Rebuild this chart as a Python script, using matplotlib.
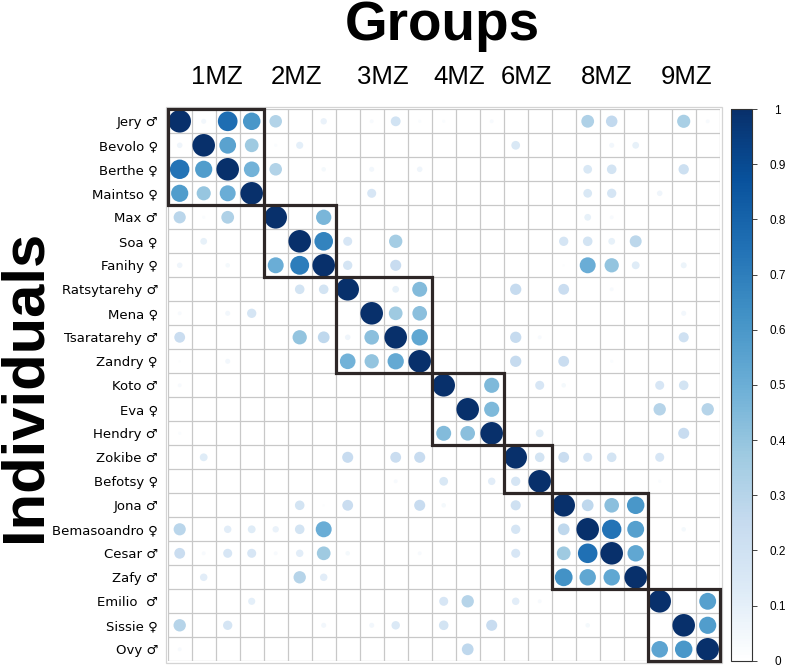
import numpy as np
import matplotlib
matplotlib.use("Agg")
import matplotlib.pyplot as plt
from matplotlib.patches import Circle, Rectangle
from matplotlib.colors import LinearSegmentedColormap, Normalize
from matplotlib.cm import ScalarMappable

individuals = ["Jery ♂", "Bevolo ♀", "Berthe ♀", "Maintso ♀", "Max ♂", "Soa ♀",
               "Fanihy ♀", "Ratsytarehy ♂", "Mena ♀", "Tsaratarehy ♂", "Zandry ♀",
               "Koto ♂", "Eva ♀", "Hendry ♂", "Zokibe ♂", "Befotsy ♀", "Jona ♂",
               "Bemasoandro ♀", "Cesar ♂", "Zafy ♂", "Emilio  ♂", "Sissie ♀", "Ovy ♂"]

group_labels = ["1MZ", "2MZ", "3MZ", "4MZ", "6MZ", "8MZ", "9MZ"]
group_sizes = [4, 3, 4, 3, 2, 4, 3]
group_label_offsets = [0.04, -0.12, -0.05, -0.36, -0.04, 0.29, 0.1]

N = len(individuals)

def row(entries):
    r = [0.0] * N
    for k, v in entries.items():
        r[k] = v
    return r

affinity = [
    row({0: 1, 1: .05, 2: .76, 3: .60, 4: .31, 6: .08, 8: .03, 9: .19, 10: .02, 11: .02, 13: .03, 17: .32, 18: .26, 21: .34, 22: .03}),  # Jery
    row({0: .06, 1: 1, 2: .55, 3: .37, 4: .02, 5: .10, 14: .15, 18: .05, 19: .09}),  # Bevolo
    row({0: .74, 1: .58, 2: 1, 3: .48, 4: .31, 6: .04, 8: .05, 10: .06, 17: .15, 18: .18, 21: .21}),  # Berthe
    row({0: .58, 1: .39, 2: .50, 3: 1, 8: .16, 17: .15, 18: .17, 20: .06}),  # Maintso
    row({0: .29, 1: .02, 2: .32, 4: 1, 6: .46, 17: .09, 18: .03}),  # Max
    row({1: .09, 5: 1, 6: .68, 7: .16, 9: .35, 16: .17, 17: .18, 18: .09, 19: .28}),  # Soa
    row({0: .06, 2: .04, 4: .50, 5: .70, 6: 1, 7: .17, 9: .24, 16: .01, 17: .50, 18: .40, 19: .12, 21: .07}),  # Fanihy
    row({5: .18, 6: .18, 7: 1, 9: .09, 10: .44, 14: .25, 16: .23, 18: .03}),  # Ratsytarehy
    row({0: .03, 2: .05, 3: .17, 8: 1, 9: .37, 10: .42, 21: .05}),  # Mena
    row({0: .23, 5: .40, 6: .27, 7: .06, 8: .42, 9: 1, 10: .53, 14: .25, 15: .03, 21: .20}),  # Tsaratarehy
    row({0: .01, 2: .05, 7: .48, 8: .40, 9: .52, 10: 1, 14: .25, 16: .23, 18: .02}),  # Zandry
    row({0: .03, 11: 1, 13: .45, 15: .16, 16: .04, 20: .16, 21: .18}),  # Koto
    row({12: 1, 13: .45, 20: .30, 22: .30}),  # Eva
    row({0: .02, 11: .44, 12: .42, 13: 1, 15: .12, 21: .24}),  # Hendry
    row({1: .12, 7: .24, 9: .23, 10: .24, 14: 1, 15: .18, 16: .23, 17: .16, 18: .18, 20: .16}),  # Zokibe
    row({9: .03, 11: .15, 13: .11, 14: .17, 15: 1, 20: .02}),  # Befotsy
    row({5: .18, 6: .01, 7: .23, 10: .24, 11: .04, 14: .20, 16: 1, 17: .27, 18: .42, 19: .60}),  # Jona
    row({0: .29, 2: .11, 3: .12, 4: .08, 5: .18, 6: .50, 14: .17, 16: .27, 17: 1, 18: .74, 19: .56, 21: .04}),  # Bemasoandro
    row({0: .23, 1: .03, 2: .16, 3: .16, 4: .03, 5: .11, 6: .37, 7: .04, 10: .03, 14: .16, 16: .37, 17: .75, 18: 1, 19: .53}),  # Cesar
    row({1: .11, 5: .30, 6: .11, 16: .62, 17: .53, 18: .53, 19: 1}),  # Zafy
    row({3: .10, 11: .16, 12: .30, 14: .11, 15: .03, 20: 1, 22: .56}),  # Emilio
    row({0: .30, 2: .17, 6: .05, 8: .05, 9: .14, 11: .18, 13: .24, 17: .04, 21: 1, 22: .58}),  # Sissie
    row({0: .03, 12: .27, 20: .54, 21: .60, 22: 1}),  # Ovy
]
M = np.array(affinity)

cmap = LinearSegmentedColormap.from_list(
    "blues", ["#FFFFFF", "#DEEBF7", "#C6DBEF", "#9ECAE1", "#6BAED6",
              "#4292C6", "#2171B5", "#08519C", "#08306B"], N=200)
norm = Normalize(0, 1)

fig = plt.figure(figsize=(7.87, 6.68), dpi=100)
ax = fig.add_axes([167.7 / 787, 6.7 / 668, 552 / 787, 552 / 668])
ax.set_xlim(-0.5, N - 0.5)
ax.set_ylim(N - 0.5, -0.5)
ax.set_aspect("equal")

gridc = "#c8c8c8"
for k in range(N + 1):
    ax.axhline(k - 0.5, color=gridc, lw=0.9, zorder=1)
    ax.axvline(k - 0.5, color=gridc, lw=0.9, zorder=1)
for s in ax.spines.values():
    s.set_visible(False)
d = 0.09
ax.add_patch(Rectangle((-0.5 - d, -0.5 - d), N + 2 * d, N + 2 * d, fill=False,
                       ec="#d4d4d4", lw=0.9, clip_on=False, zorder=1))

for i in range(N):
    for j in range(N):
        v = M[i, j]
        if v > 0:
            ax.add_patch(Circle((j, i), radius=0.47 * np.sqrt(v), color=cmap(norm(v)),
                                lw=0, zorder=2))

start = 0
centers = []
for size in group_sizes:
    ax.add_patch(Rectangle((start - 0.5, start - 0.5), size, size, fill=False,
                           ec="#2e2727", lw=2.3, clip_on=False, zorder=3))
    centers.append(start + size / 2 - 0.5)
    start += size

ax.set_xticks([])
ax.set_yticks(range(N))
ax.set_yticklabels(individuals, fontsize=9.5, family=["DejaVu Sans"])
ax.tick_params(axis="y", length=0, pad=7)

for lab, c, off in zip(group_labels, centers, group_label_offsets):
    ax.text(c + off, -1.85, lab, ha="center", va="center", fontsize=18.5,
            family=["Liberation Sans"], clip_on=False)

fig.text(442 / 787, 1 - 40 / 668, "Groups", ha="center", va="baseline",
         fontsize=39.5, fontweight="bold", family=["Liberation Sans"])
fig.text(25 / 787, 1 - 386 / 668, "Individuals", ha="center", va="center",
         rotation=90, fontsize=43, fontweight="bold", family=["Liberation Sans"])

cax = fig.add_axes([730.7 / 787, 7.3 / 668, 21 / 787, 551.7 / 668])
sm = ScalarMappable(norm=norm, cmap=cmap)
cb = fig.colorbar(sm, cax=cax, ticks=np.linspace(0, 1, 11))
cb.outline.set_linewidth(0.8)
cb.outline.set_edgecolor("#333333")
cb.ax.set_yticklabels(["0", "0.1", "0.2", "0.3", "0.4", "0.5", "0.6", "0.7", "0.8", "0.9", "1"])
cb.ax.tick_params(length=3.5, width=0.7, color="#444444", pad=15, labelsize=8.5)
for t in cb.ax.get_yticklabels():
    t.set_horizontalalignment("center")
    t.set_family("Liberation Sans")

fig.savefig("out.png", dpi=100)
